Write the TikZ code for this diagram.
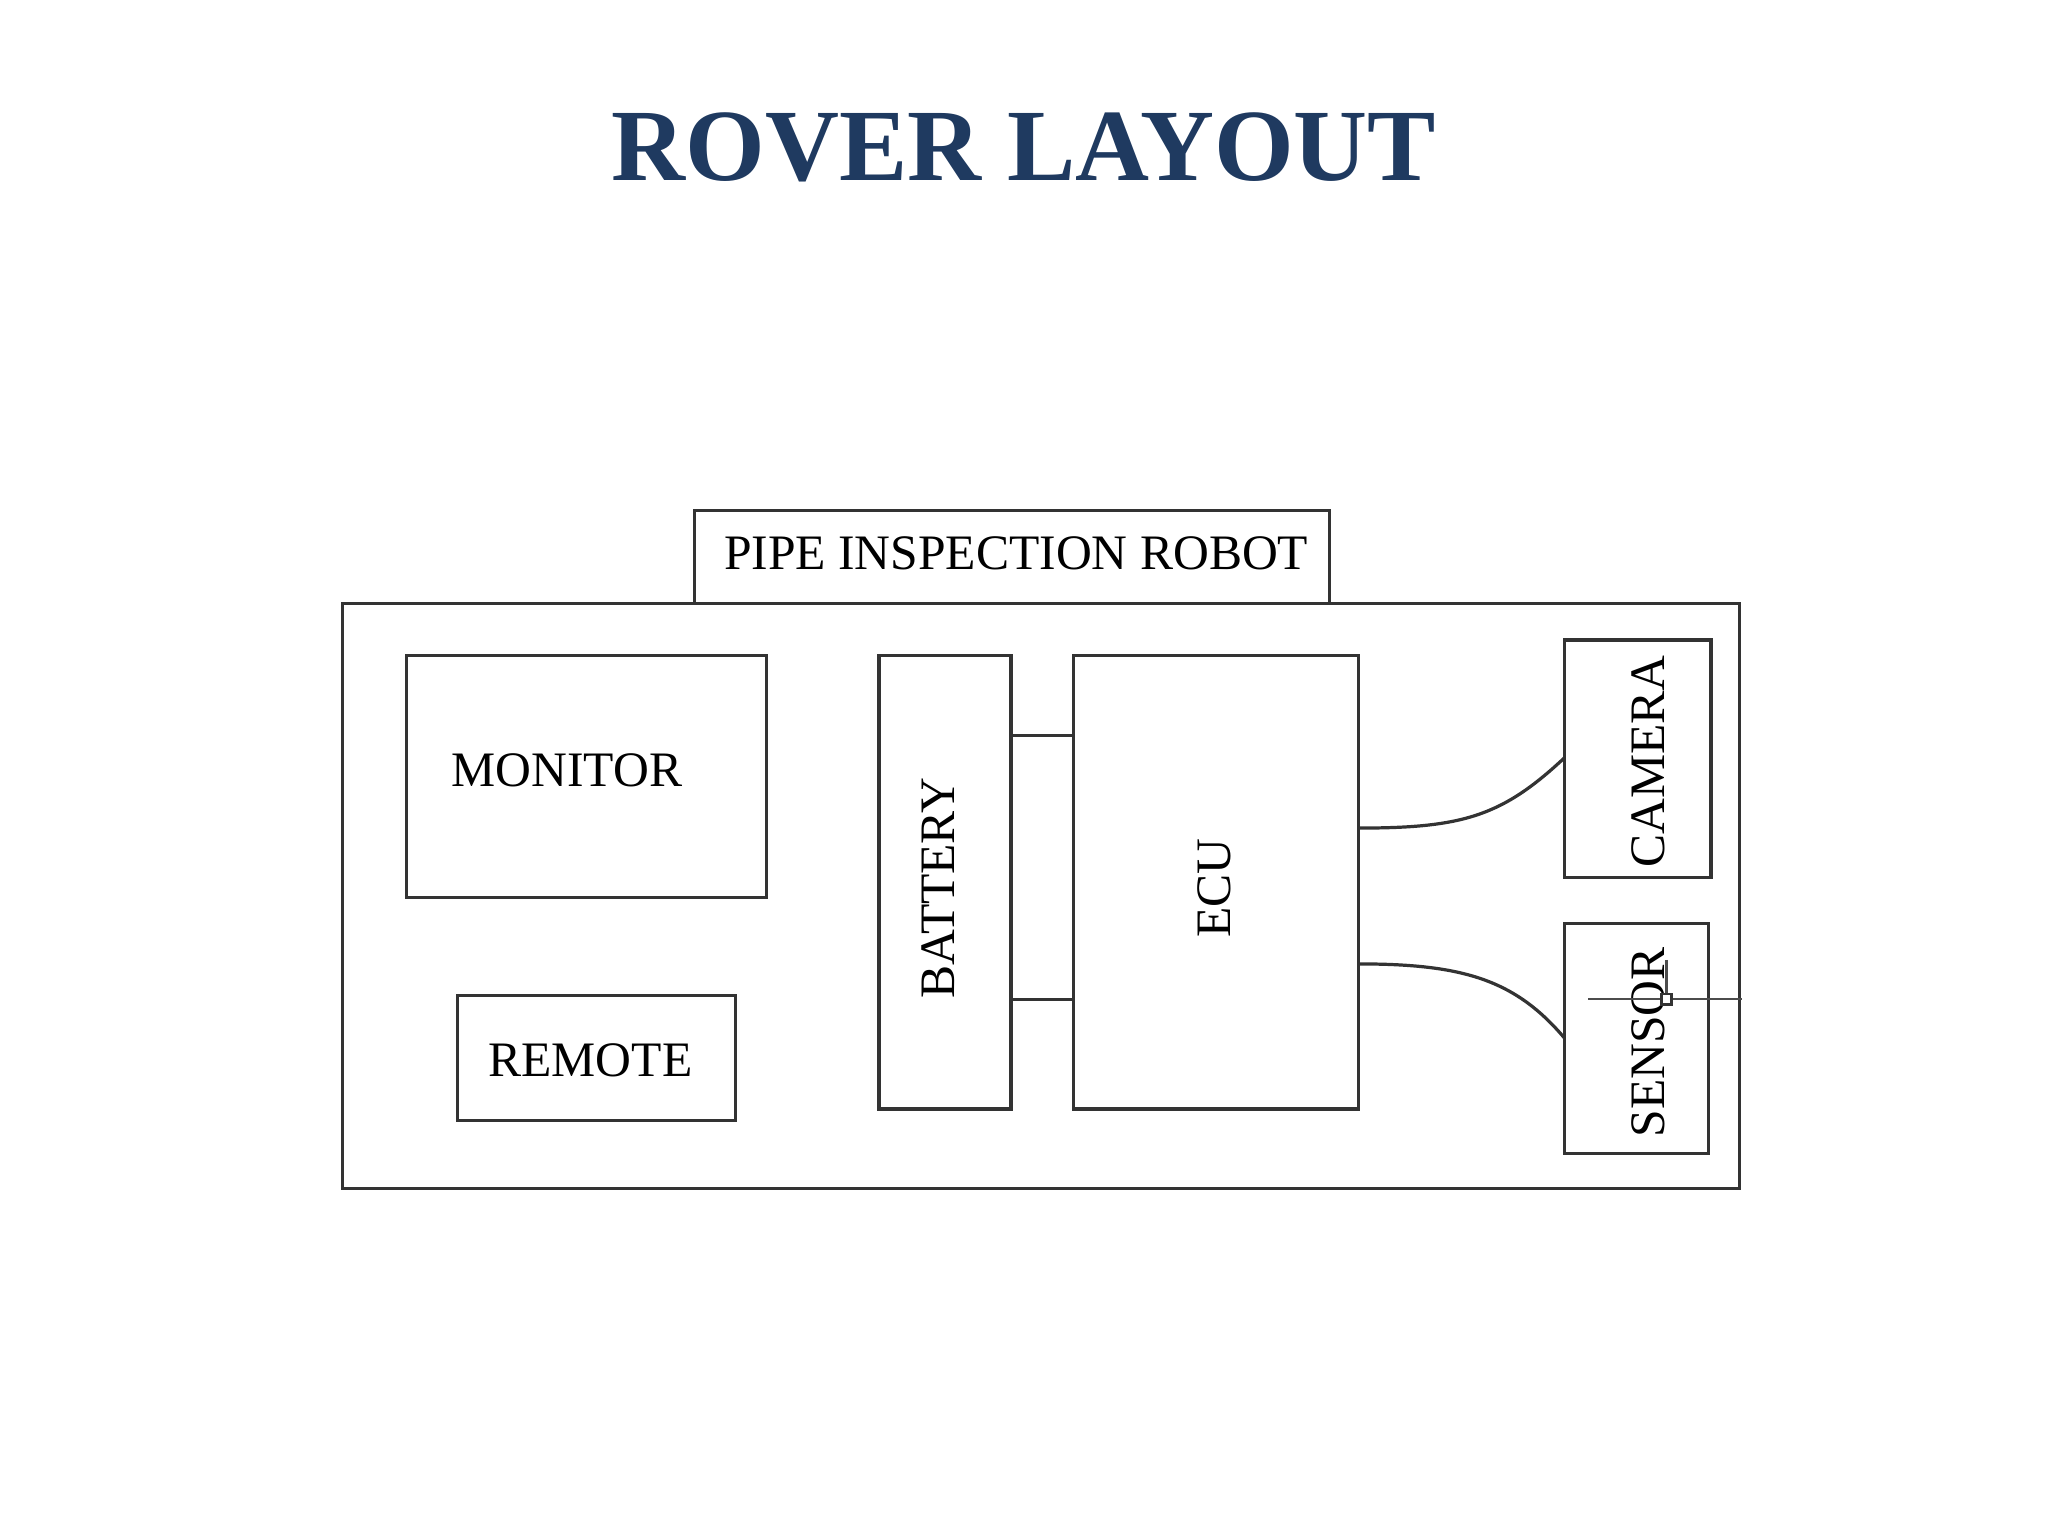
\documentclass[tikz,border=0pt]{standalone}
\usepackage{fontspec}
\setmainfont{Liberation Serif}
\definecolor{titleblue}{HTML}{1F3A60}
\begin{document}
\begin{tikzpicture}[x=0.01cm,y=-0.01cm,
  blk/.style={draw=black!80,line width=0.7pt},
  lbl/.style={font=\fontsize{10.8}{11}\selectfont},
  wire/.style={draw=black!80,line width=0.7pt}]
\useasboundingbox (0,0) rectangle (1568,1176);
\node[font=\fontsize{22.3}{23}\selectfont\bfseries,text=titleblue] (title) at (784,113) {ROVER LAYOUT};
\draw[blk] (262,462) rectangle (1332,910);
\draw[blk] (532,462) -- (532,391) -- (1018,391) -- (1018,462);
\node[lbl] (pir) at (778,424) {PIPE INSPECTION ROBOT};
\draw[blk] (311,502) rectangle (587,687);
\node[lbl] (mon) at (434,590) {MONITOR};
\draw[blk] (350,762) rectangle (563,858);
\node[lbl] (rem) at (452,812) {REMOTE};
\draw[blk] (673,502) rectangle (774,849);
\node[lbl,rotate=90] (bat) at (718,680) {BATTERY};
\draw[blk] (822,502) rectangle (1040,849);
\node[lbl,rotate=90] (ecu) at (930,680) {ECU};
\draw[blk] (1198,490) rectangle (1310,672);
\node[lbl,rotate=90] (cam) at (1262,583) {CAMERA};
\draw[blk] (1198,707) rectangle (1308,883);
\node[lbl,rotate=90] (sen) at (1262,798) {SENSOR};
\coordinate (b1) at (774,563); \coordinate (e1) at (822,563);
\coordinate (b2) at (774,765); \coordinate (e2) at (822,765);
\draw[wire] (b1) -- (e1);
\draw[wire] (b2) -- (e2);
\coordinate (c1) at (1040,634); \coordinate (c2) at (1198,580);
\coordinate (s1) at (1040,738); \coordinate (s2) at (1198,795);
\draw[wire] (c1) .. controls (1120,634) and (1150,625) .. (c2);
\draw[wire] (s1) .. controls (1120,738) and (1160,750) .. (s2);
\draw[black!70,line width=0.5pt] (1216,765) -- (1334,765);
\draw[black!70,line width=0.5pt] (1276,735) -- (1276,765);
\draw[black!80,line width=0.6pt,fill=white] (1272,761) rectangle (1280,769);
\end{tikzpicture}
\end{document}
